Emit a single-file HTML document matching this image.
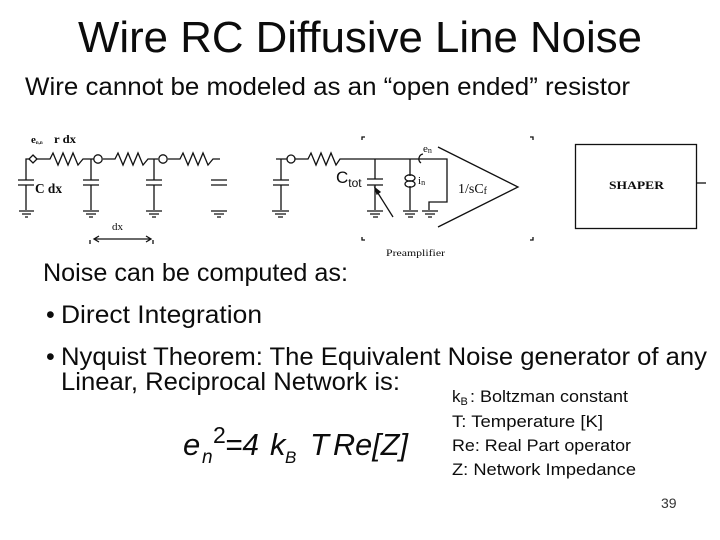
<!DOCTYPE html>
<html><head><meta charset="utf-8"><style>
html,body{margin:0;padding:0;background:#fff}
svg{display:block}
text{font-family:"Liberation Sans",sans-serif;fill:#0c0c0c}
.s{font-family:"Liberation Serif",serif}
.b{font-size:25px}
.k{font-size:17px}
.f{font-size:31px;font-style:italic}
.w{fill:none;stroke:#111;stroke-width:1.3}
</style></head><body>
<svg width="720" height="540" viewBox="0 0 720 540" xmlns="http://www.w3.org/2000/svg">
<text x="78" y="52" font-size="44" textLength="564" lengthAdjust="spacingAndGlyphs">Wire RC Diffusive Line Noise</text>
<text x="25" y="95" font-size="25" textLength="605" lengthAdjust="spacingAndGlyphs">Wire cannot be modeled as an “open ended” resistor</text>

<g class="w">
<!-- left ladder -->
<path d="M26 180V159H30M36 159H50l3-6 5 12 5-12 5 12 5-12 5 12 5-6H91M91 159V180M91 185V210M91 159H94M103 159H115l3-6 5 12 5-12 5 12 5-12 5 12 5-6H154V180M154 185V210M154 159H158M168 159H180l3-6 5 12 5-12 5 12 5-12 5 12 5-6H220"/>
<path d="M26 185V210M18 180H34M18 185H34M83 180H99M83 185H99M146 180H162M146 185H162M211 180H227M211 185H227"/>
<path d="M33 155l4 4-4 4-4-4z"/>
<circle cx="98" cy="159" r="4.2"/><circle cx="163" cy="159" r="4.2"/>
<!-- grounds -->
<path d="M19 211H34M22 214H31M25 217H28M83 211H99M86 214H96M89 217H93M146 211H162M149 214H159M152 217H156M211 211H227M214 214H224M217 217H221"/>
<!-- dx -->
<path d="M90 240V244M153 240V244M95 239H150M99 236l-5 3 5 3M146 236l5 3-5 3"/>
<!-- right circuit -->
<path d="M276 159H281V180M281 185V210M281 159H287M295 159H308l3-6 5 12 5-12 5 12 5-12 5 12 4-6H447V202H429V210M375 159V179M375 185V210M410 159V176M410 186V210M367 179H383M367 185H383M273 180H289M273 185H289"/>
<circle cx="291" cy="159" r="4"/>
<ellipse cx="410" cy="178" rx="5" ry="3.2"/><ellipse cx="410" cy="184" rx="5" ry="3.2"/>
<path d="M423 154a5 5 0 0 0 -2 9"/>
<path d="M272 211H289M275 214H286M278 217H283M367 211H383M370 214H380M373 217H378M403 211H418M405 214H415M408 217H413M422 211H438M425 214H435M428 217H432"/>
<path d="M438 147L518 187L438 227"/>
<path d="M376 190L393 217"/>
<path d="M375 188l5 4-3 2z" fill="#111"/>
<!-- brackets -->
<path d="M362 140V137H365M533 140V137H530M362 237V240H365M533 237V240H530"/>
<!-- shaper -->
<rect x="575.5" y="144.5" width="121" height="84"/>
<path d="M696 183H706"/>
</g>

<text class="s" x="31" y="143" font-size="11" font-weight="bold">e<tspan font-size="5" dy="1">n,n</tspan></text>
<text class="s" x="54" y="143" font-size="12" font-weight="bold" textLength="22" lengthAdjust="spacingAndGlyphs">r dx</text>
<text class="s" x="35" y="193" font-size="14" font-weight="bold" textLength="27" lengthAdjust="spacingAndGlyphs">C dx</text>
<text class="s" x="112" y="230" font-size="11">dx</text>
<text x="336" y="183" font-size="17">C<tspan font-size="12" dy="4">tot</tspan></text>
<text class="s" x="423" y="152" font-size="11">e<tspan font-size="8" dy="1">n</tspan></text>
<text class="s" x="418" y="184" font-size="11">i<tspan font-size="8" dy="1">n</tspan></text>
<text class="s" x="458" y="193" font-size="14" textLength="29" lengthAdjust="spacingAndGlyphs">1/sC<tspan font-size="10" dy="1">f</tspan></text>
<text class="s" x="386" y="256" font-size="9.5" textLength="59" lengthAdjust="spacingAndGlyphs">Preamplifier</text>
<text class="s" x="609" y="189" font-size="11.5" font-weight="bold" textLength="55" lengthAdjust="spacingAndGlyphs">SHAPER</text>

<text class="b" x="43" y="281" textLength="305" lengthAdjust="spacingAndGlyphs">Noise can be computed as:</text>
<text class="b" x="46" y="323">•</text>
<text class="b" x="61" y="323" textLength="201" lengthAdjust="spacingAndGlyphs">Direct Integration</text>
<text class="b" x="46" y="365">•</text>
<text class="b" x="61" y="365" textLength="646" lengthAdjust="spacingAndGlyphs">Nyquist Theorem: The Equivalent Noise generator of any</text>
<text class="b" x="61" y="390" textLength="339" lengthAdjust="spacingAndGlyphs">Linear, Reciprocal Network is:</text>

<text class="f" x="183" y="455">e</text>
<text x="202" y="463" font-size="19" font-style="italic">n</text>
<text x="213" y="443" font-size="23">2</text>
<text class="f" x="225" y="455" textLength="34" lengthAdjust="spacingAndGlyphs">=4</text>
<text class="f" x="270" y="455">k</text>
<text x="285" y="463" font-size="17" font-style="italic">B</text>
<text class="f" x="310" y="455">T</text>
<text class="f" x="333" y="455" textLength="75" lengthAdjust="spacingAndGlyphs">Re[Z]</text>

<text class="k" x="452" y="402">k<tspan font-size="11" dy="3">B</tspan></text>
<text class="k" x="470" y="402" textLength="158" lengthAdjust="spacingAndGlyphs">: Boltzman constant</text>
<text class="k" x="452" y="427" textLength="151" lengthAdjust="spacingAndGlyphs">T: Temperature [K]</text>
<text class="k" x="452" y="451" textLength="179" lengthAdjust="spacingAndGlyphs">Re: Real Part operator</text>
<text class="k" x="452" y="475" textLength="184" lengthAdjust="spacingAndGlyphs">Z: Network Impedance</text>
<text x="661" y="508" font-size="14" style="fill:#333">39</text>
</svg>
</body></html>
